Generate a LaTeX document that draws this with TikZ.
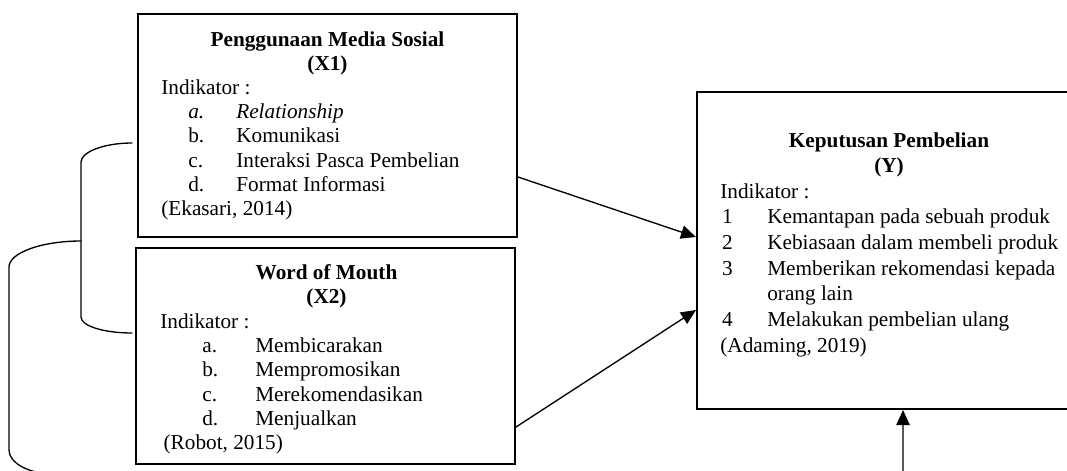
\documentclass[tikz,border=0pt]{standalone}
\usepackage{fontspec}
\setmainfont{Liberation Serif}
\usetikzlibrary{arrows.meta}
% indent, label width, label, text
\newcommand{\itm}[4]{\hspace*{#1}\makebox[#2][l]{#3}#4}
\begin{document}
\begin{tikzpicture}[x=0.6pt,y=-0.6pt,font=\fontsize{12.75}{14.6}\selectfont, line join=round, line cap=round,
		box/.style={draw, line width=1.2pt, line join=miter, inner sep=0pt},
		txt/.style={inner sep=0pt, anchor=base west},
		head/.style={inner sep=0pt, anchor=base},
		conn/.style={line width=0.8pt},
		>={Triangle[length=9pt,width=8pt]}]
			\useasboundingbox (0,0) rectangle (1067,470);
			\clip (0,0) rectangle (1067,470);
			% boxes
			\node[box, minimum width=227.4pt, minimum height=133.8pt] (x1) at (327.5,125.5) {};
			\node[box, minimum width=227.4pt, minimum height=129.6pt] (x2) at (325.5,356) {};
			\node[box, minimum width=253.8pt, minimum height=190.2pt] (y) at (908.5,250.5) {};
			% X1
			\node[head, font=\fontsize{12.75}{14.6}\selectfont\bfseries] (x1h) at (327.5,46)
				{\begin{tabular}[t]{@{}c@{}}Penggunaan Media Sosial\\(X1)\end{tabular}};
			\node[txt] (x1t) at (161,94) {\begin{tabular}[t]{@{}l@{}}
				Indikator :\\
				\itm{16.2pt}{28.8pt}{\textit{a.}}{\textit{Relationship}}\\
				\itm{16.2pt}{28.8pt}{b.}{Komunikasi}\\
				\itm{16.2pt}{28.8pt}{c.}{Interaksi Pasca Pembelian}\\
				\itm{16.2pt}{28.8pt}{d.}{Format Informasi}\\
				(Ekasari, 2014)
				\end{tabular}};
			% X2
			\node[head, font=\fontsize{12.75}{14.6}\selectfont\bfseries] (x2h) at (326.5,279)
				{\begin{tabular}[t]{@{}c@{}}Word of Mouth\\(X2)\end{tabular}};
			\node[txt] (x2t) at (160,328) {\begin{tabular}[t]{@{}l@{}}
				Indikator :\\
				\itm{25.2pt}{31.8pt}{a.}{Membicarakan}\\
				\itm{25.2pt}{31.8pt}{b.}{Mempromosikan}\\
				\itm{25.2pt}{31.8pt}{c.}{Merekomendasikan}\\
				\itm{25.2pt}{31.8pt}{d.}{Menjualkan}\\
				\hspace*{2pt}(Robot, 2015)
				\end{tabular}};
			% Y
			\node[head, font=\fontsize{12.75}{15.4}\selectfont\bfseries] (yh) at (889,147)
				{\begin{tabular}[t]{@{}c@{}}Keputusan Pembelian\\(Y)\end{tabular}};
			\node[txt, font=\fontsize{12.75}{15.4}\selectfont] (yt) at (720,198) {\begin{tabular}[t]{@{}l@{}}
				Indikator :\\
				\itm{1pt}{27.2pt}{1}{Kemantapan pada sebuah produk}\\
				\itm{1pt}{27.2pt}{2}{Kebiasaan dalam membeli produk}\\
				\itm{1pt}{27.2pt}{3}{Memberikan rekomendasi kepada}\\
				\hspace*{28.2pt}orang lain\\
				\itm{1pt}{27.2pt}{4}{Melakukan pembelian ulang}\\
				(Adaming, 2019)
				\end{tabular}};
			% arrows
			\draw[conn,->] ([shift={(0,51.5)}]x1.east) -- ([shift={(0,-13.5)}]y.west);
			\draw[conn,->] ([shift={(0,71)}]x2.east) -- ([shift={(0,59.5)}]y.west);
			% brackets
			\coordinate (mid) at (81,241);
			\draw[conn] ([shift={(-5,17.5)}]x1.west) .. controls (104,143) and (81,152) .. (81,162)
				-- (81,317) .. controls (81,326) and (104,333) .. ([shift={(-3,-23)}]x2.west);
			\draw[conn,->] (mid) .. controls (41,241) and (9,253) .. (9,267) -- (9,450)
				.. controls (9,463) and (29,474) .. (54,474) -- (903,474) -- ([shift={(-5.5,0)}]y.south);
		\end{tikzpicture}
\end{document}
